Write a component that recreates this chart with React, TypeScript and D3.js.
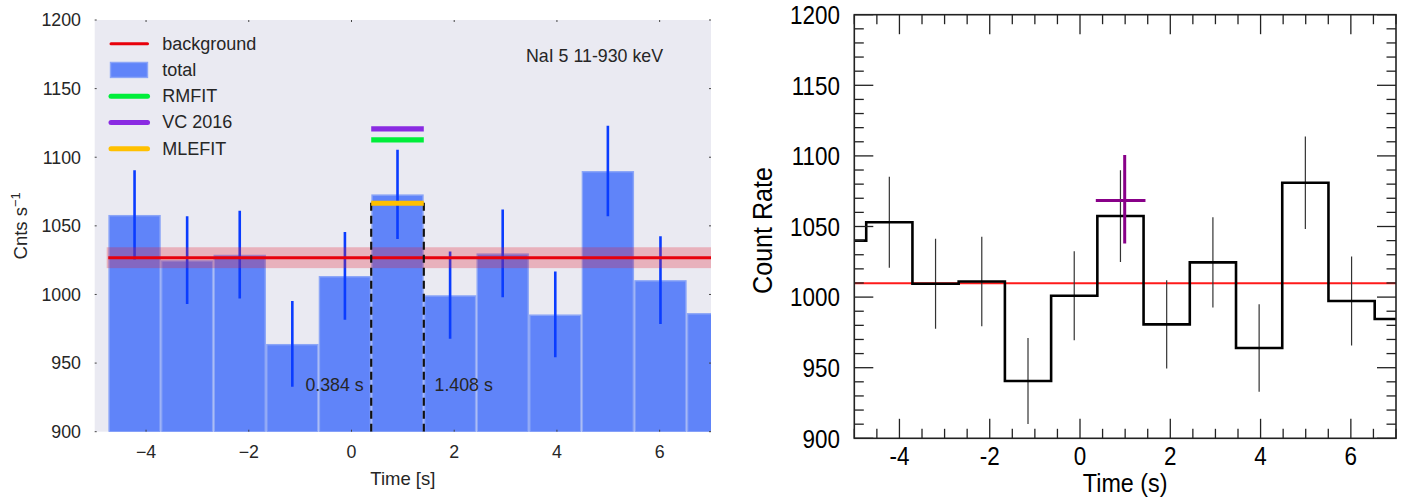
import React from "react";
import * as d3 from "d3";

// ---------- data ----------
const binEdges = [-4.736, -3.712, -2.688, -1.664, -0.64, 0.384, 1.408, 2.432, 3.456, 4.48, 5.504, 6.528, 7.552];
const totalRates = [1058, 1025, 1029, 964, 1013.5, 1073, 999.5, 1030, 985.5, 1090, 1010.5, 986.5];
const totalErrs = [32.5, 32, 32, 31.3, 32, 32.5, 31.8, 32, 31.2, 33, 32, 31];
const bgRate = 1026.8;
const bgErr = 7.6;
const intervalStart = 0.384;
const intervalEnd = 1.408;
const rmfitRate = 1112.6;
const vcRate = 1120.6;
const mlefitRate = 1066.5;
const dashTop = 1070;

const rcEdges = [-5.76, -4.736, -3.712, -2.688, -1.664, -0.64, 0.384, 1.408, 2.432, 3.456, 4.48, 5.504, 6.528, 7.552];
const rcRates = [1040, 1053, 1009.5, 1011, 940.6, 1001, 1057.4, 980.7, 1024.6, 964, 1081, 997.2, 984.5];
const rcErrs = [32, 32.2, 31.9, 31.7, 30.5, 31.5, 32.5, 31.3, 31.9, 31, 32.7, 31.5, 31];
const rcBg = 1009.8;
const crossX = [0.35, 1.45];
const crossXc = 0.99;
const crossY = 1068.5;
const crossYErr = [1038, 1100.6];

const xTicks = [-4, -2, 0, 2, 4, 6];
const yTicks = [900, 950, 1000, 1050, 1100, 1150, 1200];
const legendItems = [
  { label: "background", kind: "line", color: "#e8000b", w: 3 },
  { label: "total", kind: "patch", color: "#6084f9", w: 0 },
  { label: "RMFIT", kind: "line", color: "#00ee3a", w: 5 },
  { label: "VC 2016", kind: "line", color: "#8a2be2", w: 5 },
  { label: "MLEFIT", kind: "line", color: "#ffc000", w: 5 },
];

// ---------- scales ----------
const L = { x0: 94.7, x1: 711, y0: 20, y1: 431.7 };
const R = { x0: 854.3, x1: 1396, y0: 14.7, y1: 438.3 };
const xL = d3.scaleLinear().domain([-5, 7]).range([L.x0, L.x1]);
const yL = d3.scaleLinear().domain([900, 1200]).range([L.y1, L.y0]);
const xR = d3.scaleLinear().domain([-5, 7]).range([R.x0, R.x1]);
const yR = d3.scaleLinear().domain([900, 1200]).range([R.y1, R.y0]);

const fL = "'Liberation Sans', Arial, Helvetica, sans-serif";
const txtL = "#262626";
const barFill = "#6084f9";
const barEdge = "#8ba5f7";

const fmtMinus = (v: number) => (v < 0 ? "\u2212" + Math.abs(v) : String(v));

function LeftPanel() {
  const centers = totalRates.map((_, i) => (binEdges[i] + binEdges[i + 1]) / 2);
  return (
    <g>
      <defs>
        <clipPath id="clipL">
          <rect x={L.x0} y={L.y0} width={L.x1 - L.x0} height={L.y1 - L.y0} />
        </clipPath>
      </defs>
      <rect x={L.x0} y={L.y0} width={L.x1 - L.x0} height={L.y1 - L.y0} fill="#eaeaf2" />
      <g clipPath="url(#clipL)">
        {totalRates.map((v, i) => (
          <rect
            key={i}
            x={xL(binEdges[i]) + 0.8}
            y={yL(v) + 0.8}
            width={xL(binEdges[i + 1]) - xL(binEdges[i]) - 1.6}
            height={yL(900) - yL(v)}
            fill={barFill}
            stroke={barEdge}
            strokeWidth={1.4}
          />
        ))}
        {totalRates.map((v, i) => (
          <line
            key={"e" + i}
            x1={xL(centers[i])}
            x2={xL(centers[i])}
            y1={yL(v - totalErrs[i])}
            y2={yL(v + totalErrs[i])}
            stroke="#0a3cff"
            strokeWidth={2.6}
          />
        ))}
        <rect
          x={L.x0 + 12}
          y={yL(bgRate + bgErr)}
          width={L.x1 - L.x0 - 12}
          height={yL(bgRate - bgErr) - yL(bgRate + bgErr)}
          fill="rgba(225,30,50,0.28)"
        />
        <line x1={xL(binEdges[0])} x2={L.x1} y1={yL(bgRate)} y2={yL(bgRate)} stroke="#e8000b" strokeWidth={3} />
        {[intervalStart, intervalEnd].map((t, i) => (
          <line
            key={"d" + i}
            x1={xL(t)}
            x2={xL(t)}
            y1={yL(900)}
            y2={yL(dashTop)}
            stroke="#111"
            strokeWidth={2.2}
            strokeDasharray="8,5"
          />
        ))}
        <line x1={xL(intervalStart)} x2={xL(intervalEnd)} y1={yL(mlefitRate)} y2={yL(mlefitRate)} stroke="#ffc000" strokeWidth={5} />
        <line x1={xL(intervalStart)} x2={xL(intervalEnd)} y1={yL(rmfitRate)} y2={yL(rmfitRate)} stroke="#00ee3a" strokeWidth={5.3} />
        <line x1={xL(intervalStart)} x2={xL(intervalEnd)} y1={yL(vcRate)} y2={yL(vcRate)} stroke="#8a2be2" strokeWidth={5.3} />
      </g>
      {/* legend */}
      {legendItems.map((it, i) => {
        const cy = 43.7 + i * 26.25;
        return (
          <g key={it.label}>
            {it.kind === "line" ? (
              <line x1={111} x2={147.5} y1={cy} y2={cy} stroke={it.color} strokeWidth={it.w} strokeLinecap="round" />
            ) : (
              <rect x={110.5} y={cy - 7.5} width={37} height={15} fill={barFill} stroke={barEdge} strokeWidth={1.4} />
            )}
            <text x={162.3} y={cy + 6} fontFamily={fL} fontSize={18} fill={txtL}>
              {it.label}
            </text>
          </g>
        );
      })}
      <text x={526} y={62} fontFamily={fL} fontSize={17.8} fill={txtL}>
        NaI 5 11-930 keV
      </text>
      <text x={xL(intervalStart) - 7.5} y={390.7} textAnchor="end" fontFamily={fL} fontSize={17.8} fill={txtL}>
        0.384 s
      </text>
      <text x={xL(intervalEnd) + 10.7} y={390.7} fontFamily={fL} fontSize={17.8} fill={txtL}>
        1.408 s
      </text>
      {/* small ticks */}
      {yTicks.map((v) => (
        <g key={"yt" + v}>
          <line x1={L.x0} x2={L.x0 + 2} y1={yL(v)} y2={yL(v)} stroke="#444" strokeWidth={1} />
          <line x1={L.x1 - 2} x2={L.x1} y1={yL(v)} y2={yL(v)} stroke="#444" strokeWidth={1} />
          <text x={81} y={yL(v) + 6.3} textAnchor="end" fontFamily={fL} fontSize={17.8} fill={txtL}>
            {v}
          </text>
        </g>
      ))}
      {xTicks.map((v) => (
        <g key={"xt" + v}>
          <line x1={xL(v)} x2={xL(v)} y1={L.y0} y2={L.y0 + 2} stroke="#444" strokeWidth={1} />
          <line x1={xL(v)} x2={xL(v)} y1={L.y1 - 2} y2={L.y1} stroke="#444" strokeWidth={1} />
          <text x={xL(v)} y={458} textAnchor="middle" fontFamily={fL} fontSize={17.8} fill={txtL}>
            {fmtMinus(v)}
          </text>
        </g>
      ))}
      <text x={(L.x0 + L.x1) / 2} y={484.5} textAnchor="middle" fontFamily={fL} fontSize={18.5} fill={txtL}>
        Time [s]
      </text>
      <text transform={`translate(26.7,${(L.y0 + L.y1) / 2}) rotate(-90)`} textAnchor="middle" fontFamily={fL} fontSize={18.5} fill={txtL}>
        Cnts s
        <tspan dy={-7} fontSize={13}>
          {"\u22121"}
        </tspan>
      </text>
    </g>
  );
}

function RightPanel() {
  const centers = rcRates.map((_, i) => (rcEdges[i] + rcEdges[i + 1]) / 2);
  const stepPts: [number, number][] = rcRates.map((v, i) => [rcEdges[i], v]);
  stepPts.push([rcEdges[rcEdges.length - 1], rcRates[rcRates.length - 1]]);
  const stepLine = d3
    .line<[number, number]>()
    .x((d) => xR(d[0]))
    .y((d) => yR(d[1]))
    .curve(d3.curveStepAfter);
  const minorX = d3.range(-5, 7.001, 0.5);
  const minorY = d3.range(900, 1200.001, 10);
  const sx = 0.88;
  const tk = (x: number, y: number, s: string, anchor: string, fs = 25.5) => (
    <text transform={`translate(${x},${y}) scale(${sx},1)`} textAnchor={anchor} fontFamily={fL} fontSize={fs} fill="#000">
      {s}
    </text>
  );
  return (
    <g>
      <defs>
        <clipPath id="clipR">
          <rect x={R.x0} y={R.y0} width={R.x1 - R.x0} height={R.y1 - R.y0} />
        </clipPath>
      </defs>
      <g clipPath="url(#clipR)">
        <line x1={R.x0} x2={R.x1} y1={yR(rcBg)} y2={yR(rcBg)} stroke="#ff1a1a" strokeWidth={2} />
        {rcRates.map((v, i) => (
          <line
            key={"re" + i}
            x1={xR(centers[i])}
            x2={xR(centers[i])}
            y1={yR(v - rcErrs[i])}
            y2={yR(v + rcErrs[i])}
            stroke="#333"
            strokeWidth={1.2}
          />
        ))}
        <path d={stepLine(stepPts) || ""} fill="none" stroke="#000" strokeWidth={2.6} />
        <line x1={xR(crossX[0])} x2={xR(crossX[1])} y1={yR(crossY)} y2={yR(crossY)} stroke="#880088" strokeWidth={3} />
        <line x1={xR(crossXc)} x2={xR(crossXc)} y1={yR(crossYErr[0])} y2={yR(crossYErr[1])} stroke="#880088" strokeWidth={3} />
      </g>
      {minorX.map((v) => {
        const major = xTicks.includes(v);
        const len = major ? 19.5 : 9.5;
        return (
          <g key={"rx" + v}>
            <line x1={xR(v)} x2={xR(v)} y1={R.y1} y2={R.y1 - len} stroke="#222" strokeWidth={1.3} />
            <line x1={xR(v)} x2={xR(v)} y1={R.y0} y2={R.y0 + len} stroke="#222" strokeWidth={1.3} />
          </g>
        );
      })}
      {minorY.map((v) => {
        const major = yTicks.includes(v);
        const len = major ? 19 : 9.5;
        return (
          <g key={"ry" + v}>
            <line x1={R.x0} x2={R.x0 + len} y1={yR(v)} y2={yR(v)} stroke="#222" strokeWidth={1.3} />
            <line x1={R.x1} x2={R.x1 - len} y1={yR(v)} y2={yR(v)} stroke="#222" strokeWidth={1.3} />
          </g>
        );
      })}
      <rect x={R.x0} y={R.y0} width={R.x1 - R.x0} height={R.y1 - R.y0} fill="none" stroke="#222" strokeWidth={1.6} />
      {yTicks.map((v) => (
        <g key={"ryl" + v}>{tk(840, yR(v) + 9.2, String(v), "end")}</g>
      ))}
      {xTicks.map((v) => (
        <g key={"rxl" + v}>{tk(xR(v), 465, String(v < 0 ? "-" + Math.abs(v) : v), "middle")}</g>
      ))}
      {tk((R.x0 + R.x1) / 2, 491.5, "Time (s)", "middle", 26.5)}
      <text
        transform={`translate(771.7,${(R.y0 + R.y1) / 2 + 4}) rotate(-90) scale(${sx},1)`}
        textAnchor="middle"
        fontFamily={fL}
        fontSize={28.5}
        fill="#000"
      >
        Count Rate
      </text>
    </g>
  );
}

export default function App() {
  return (
    <svg
      width={1408}
      height={498}
      viewBox="0 0 1408 498"
      style={{ position: "fixed", left: 0, top: 0, background: "#fff" }}
    >
      <rect x={0} y={0} width={1408} height={498} fill="#fff" />
      <LeftPanel />
      <RightPanel />
    </svg>
  );
}
